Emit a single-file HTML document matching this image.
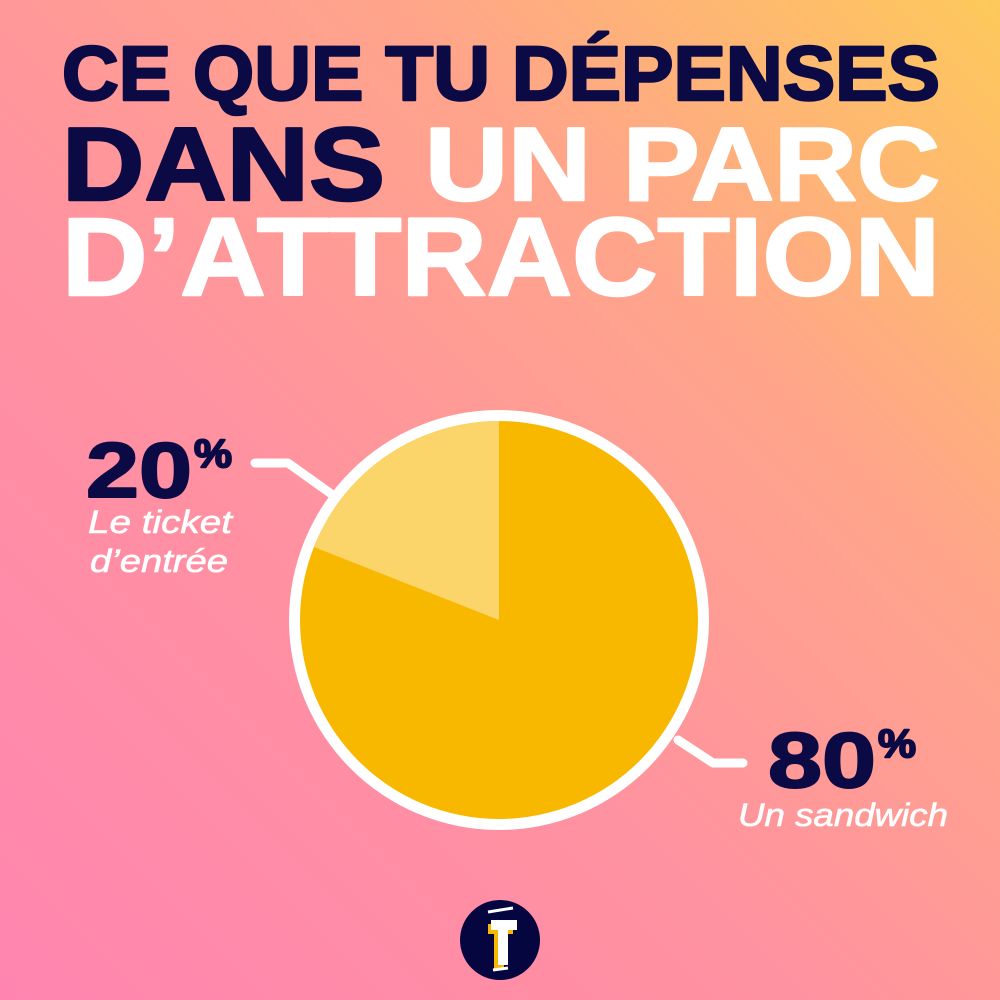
<!DOCTYPE html>
<html><head><meta charset="utf-8"><style>
html,body{margin:0;padding:0}
body{width:1000px;height:1000px;overflow:hidden;background:linear-gradient(225deg,#fdc95a 0%,#ffa58a 30%,#ff92a0 60%,#ff85b0 100%);}
svg{display:block}
</style></head><body>
<svg width="1000" height="1000" viewBox="0 0 1000 1000" xmlns="http://www.w3.org/2000/svg">
<g font-family="Liberation Sans, sans-serif" font-weight="bold" stroke-width="2.5" stroke-linejoin="round">
<text x="62" y="100" font-size="77" fill="#0b0a45" stroke="#0b0a45" textLength="878" lengthAdjust="spacingAndGlyphs">CE QUE TU DÉPENSES</text>
<text x="62" y="200" font-size="104" fill="#0b0a45" stroke="#0b0a45" textLength="323" lengthAdjust="spacingAndGlyphs">DANS</text>
<text x="425" y="200" font-size="104" fill="#fff" stroke="#fff" textLength="515" lengthAdjust="spacingAndGlyphs">UN PARC</text>
<text x="62" y="295" font-size="110" fill="#fff" stroke="#fff" textLength="878" lengthAdjust="spacingAndGlyphs">D’ATTRACTION</text>
</g>
<circle cx="499" cy="620" r="210" fill="#fff"/>
<circle cx="499" cy="620" r="199" fill="#f9b800"/>
<path d="M499 620 L499 421 A199 199 0 0 0 314 547 Z" fill="#fbd46a"/>
<polyline points="255,463 288,463 330,493" fill="none" stroke="#fff" stroke-width="9" stroke-linecap="round" stroke-linejoin="round"/>
<polyline points="678,740 713,763 743,763" fill="none" stroke="#fff" stroke-width="9" stroke-linecap="round" stroke-linejoin="round"/>
<g font-family="Liberation Sans, sans-serif" font-weight="bold" fill="#0b0a45" stroke="#0b0a45" stroke-width="2" stroke-linejoin="round">
<text x="86" y="497" font-size="78" textLength="106" lengthAdjust="spacingAndGlyphs">20</text>
<text x="194" y="467" font-size="40" textLength="38" lengthAdjust="spacingAndGlyphs">%</text>
<text x="768" y="787" font-size="78" textLength="108" lengthAdjust="spacingAndGlyphs">80</text>
<text x="878" y="757" font-size="40" textLength="38" lengthAdjust="spacingAndGlyphs">%</text>
</g>
<g font-family="Liberation Sans, sans-serif" font-style="italic" fill="#fff" stroke="#fff" stroke-width="0.6" font-size="32">
<text x="88" y="533" textLength="144" lengthAdjust="spacingAndGlyphs">Le ticket</text>
<text x="90" y="572" textLength="138" lengthAdjust="spacingAndGlyphs">d’entrée</text>
<text x="738" y="826" textLength="210" lengthAdjust="spacingAndGlyphs">Un sandwich</text>
</g>
<circle cx="500" cy="940" r="40" fill="#050540"/>
<rect x="488" y="924" width="25" height="10" fill="#f9b800"/>
<rect x="494" y="924" width="10" height="46" fill="#f9b800"/>
<rect x="491" y="920" width="26" height="10" fill="#fff"/>
<rect x="498" y="920" width="10" height="45" fill="#fff"/>
<line x1="488" y1="912" x2="513" y2="908" stroke="#fff" stroke-width="3"/>
<line x1="493" y1="970" x2="508" y2="968" stroke="#fff" stroke-width="3"/>
</svg>
</body></html>
